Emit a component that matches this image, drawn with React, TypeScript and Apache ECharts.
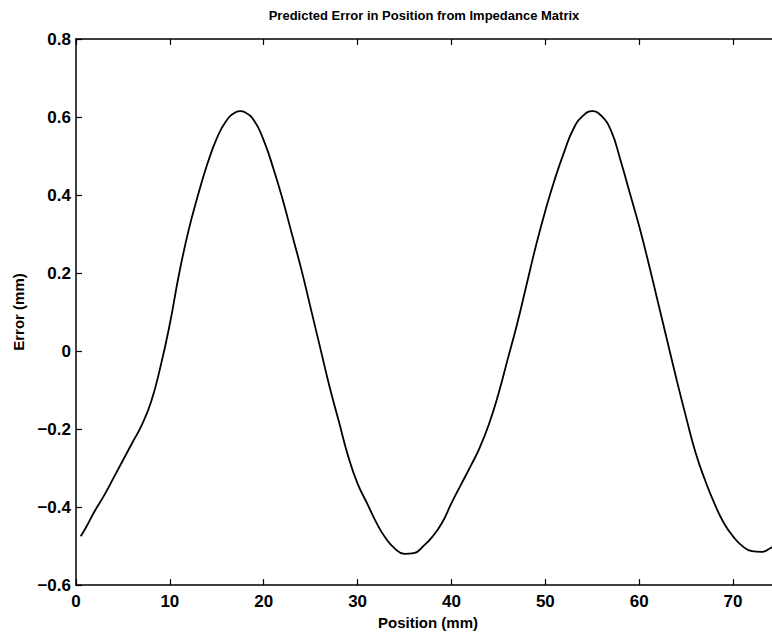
import React, { useEffect, useRef } from "react";
import * as echarts from "echarts";

const titleText = "Predicted Error in Position from Impedance Matrix";
const xName = "Position (mm)";
const yName = "Error (mm)";

const positions = [
  0.5, 1, 2, 3, 4, 5, 6, 7, 8, 9, 10, 11, 12, 13, 14, 15, 16, 17, 17.5, 18, 19, 20,
  21, 22, 23, 24, 25, 26, 27, 28, 29, 30, 31, 32, 33, 34, 35, 36, 37, 38, 39, 40,
  41, 42, 43, 44, 45, 46, 47, 48, 49, 50, 51, 52, 53, 54, 55, 56, 57, 58, 59, 60,
  61, 62, 63, 64, 65, 66, 67, 68, 69, 70, 71, 72, 73, 74, 75,
];
const errors = [
  -0.475, -0.455, -0.41, -0.37, -0.325, -0.28, -0.235, -0.19, -0.13, -0.04, 0.07, 0.2, 0.31, 0.4, 0.48, 0.545, 0.59, 0.612, 0.615, 0.612, 0.59, 0.54,
  0.47, 0.39, 0.3, 0.21, 0.11, 0.01, -0.09, -0.18, -0.27, -0.34, -0.39, -0.44, -0.48, -0.507, -0.52, -0.518, -0.5, -0.475, -0.44, -0.39,
  -0.343, -0.297, -0.248, -0.187, -0.11, -0.02, 0.07, 0.17, 0.27, 0.36, 0.44, 0.51, 0.57, 0.603, 0.615, 0.602, 0.565, 0.49, 0.405, 0.32,
  0.225, 0.125, 0.025, -0.075, -0.17, -0.26, -0.33, -0.39, -0.44, -0.475, -0.5, -0.513, -0.515, -0.505, -0.49,
];

const xTicks = { min: 0, max: 75, interval: 10 };
const yTicks = { min: -0.6, max: 0.8, interval: 0.2 };

const FONT = '"Liberation Sans", Arial, sans-serif';

function fmtY(v: number): string {
  const r = Math.round(v * 10) / 10;
  if (r === 0) return "0";
  const s = Math.abs(r).toFixed(1);
  return r < 0 ? "\u2212" + s : s;
}

export default function App() {
  const ref = useRef<HTMLDivElement>(null);
  useEffect(() => {
    if (!ref.current) return;
    const chart = echarts.init(ref.current, undefined, { renderer: "svg" });
    const axisLine = { show: true, onZero: false, lineStyle: { color: "#000", width: 1.5 } };
    const tick = { show: true, inside: true, length: 6, lineStyle: { color: "#000", width: 1.2 } };
    chart.setOption({
      animation: false,
      backgroundColor: "#fff",
      grid: { left: 76, top: 39, right: 20, bottom: 47, containLabel: false },
      graphic: [
        {
          type: "text",
          x: 424,
          y: 15,
          style: {
            text: titleText,
            textAlign: "center",
            textVerticalAlign: "middle",
            font: `bold 13px ${FONT}`,
            fill: "#000",
          },
        },
      ],
      xAxis: [
        {
          type: "value",
          position: "bottom",
          min: xTicks.min,
          max: xTicks.max,
          interval: xTicks.interval,
          axisLine,
          axisTick: tick,
          splitLine: { show: false },
          axisLabel: {
            color: "#000",
            fontSize: 17,
            fontWeight: "bold",
            fontFamily: FONT,
            margin: 8,
            showMaxLabel: false,
          },
          name: xName,
          nameLocation: "middle",
          nameGap: 29,
          nameTextStyle: { color: "#000", fontSize: 15, fontWeight: "bold", fontFamily: FONT },
        },
        {
          type: "value",
          position: "top",
          min: xTicks.min,
          max: xTicks.max,
          interval: xTicks.interval,
          axisLine,
          axisTick: tick,
          splitLine: { show: false },
          axisLabel: { show: false },
        },
      ],
      yAxis: [
        {
          type: "value",
          min: yTicks.min,
          max: yTicks.max,
          interval: yTicks.interval,
          axisLine,
          axisTick: tick,
          splitLine: { show: false },
          axisLabel: {
            color: "#000",
            fontSize: 17,
            fontWeight: "bold",
            fontFamily: FONT,
            margin: 5,
            formatter: fmtY,
          },
          name: yName,
          nameLocation: "middle",
          nameGap: 50,
          nameTextStyle: { color: "#000", fontSize: 15, fontWeight: "bold", fontFamily: FONT },
        },
      ],
      series: [
        {
          type: "line",
          data: positions.map((p, i) => [p, errors[i]]),
          showSymbol: false,
          smooth: 0.5,
          lineStyle: { color: "#000", width: 1.8 },
          clip: true,
        },
      ],
    });
    return () => chart.dispose();
  }, []);
  return (
    <div style={{ position: "fixed", left: 0, top: 0, width: 772, height: 635, overflow: "hidden", background: "#fff" }}>
      <div ref={ref} style={{ width: 800, height: 635 }} />
    </div>
  );
}
